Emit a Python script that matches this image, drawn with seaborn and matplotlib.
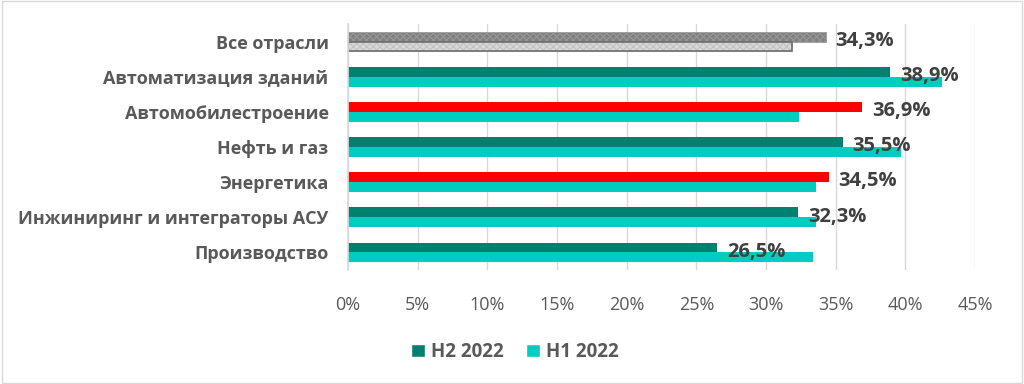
import pandas as pd
import matplotlib.pyplot as plt
import seaborn as sns
from matplotlib.ticker import FuncFormatter
from matplotlib.patches import Patch, Rectangle

# Data
categories = ["Все отрасли", "Автоматизация зданий", "Автомобилестроение",
              "Нефть и газ", "Энергетика", "Инжиниринг и интеграторы АСУ",
              "Производство"]
h2_2022 = [34.3, 38.9, 36.9, 35.5, 34.5, 32.3, 26.5]
h1_2022 = [31.9, 42.6, 32.4, 39.7, 33.6, 33.6, 33.4]
series = ["H2 2022", "H1 2022"]

df = pd.DataFrame({
    "Отрасль": categories * 2,
    "Значение": h2_2022 + h1_2022,
    "Период": [series[0]] * len(categories) + [series[1]] * len(categories),
})

C_H2 = "#00806E"
C_H1 = "#00CCC0"
C_RED = "#FF0000"
TXT = "#595959"

sns.set_theme(style="white")
plt.rcParams["font.family"] = ["Open Sans", "DejaVu Sans"]

fig, ax = plt.subplots(figsize=(10.24, 3.84), dpi=100)
fig.subplots_adjust(left=348 / 1024, right=975 / 1024, top=1 - 24 / 384, bottom=1 - 270 / 384)

sns.barplot(data=df, y="Отрасль", x="Значение", hue="Период", hue_order=series,
            order=categories, palette=[C_H2, C_H1], width=0.56, orient="h",
            saturation=1, ax=ax, legend=False)

# per-bar colouring like the original
h2_bars = ax.containers[0]
h1_bars = ax.containers[1]
for cat, bar in zip(categories, h2_bars):
    bar.set_linewidth(0)
    if cat in ("Автомобилестроение", "Энергетика"):
        bar.set_facecolor(C_RED)
for bar in h1_bars:
    bar.set_linewidth(0)

# "Все отрасли" is grey with a fine pattern
h2_bars[0].set_facecolor("#7F7F7F")
h2_bars[0].set_hatch("xxxxx")
h2_bars[0].set_edgecolor("#949494")
h2_bars[0].set_linewidth(0.4)
h1_bars[0].set_facecolor("#DADADA")
h1_bars[0].set_hatch("xxxxx")
h1_bars[0].set_edgecolor("#C4C4C4")
h1_bars[0].set_linewidth(0.4)
b = h1_bars[0]
ax.add_patch(Rectangle((b.get_x(), b.get_y()), b.get_width(), b.get_height(),
                       fill=False, edgecolor="#6E6E6E", linewidth=1.2, zorder=b.get_zorder() + 0.1))

# value labels at the end of the H2 bars
for i, v in enumerate(h2_2022):
    ax.text(v + 0.7, i - 0.02, f"{v:.1f}%".replace(".", ","), va="center", ha="left",
            fontsize=14.5, fontweight="bold", color="#404040")

ax.set_xlim(0, 45)
ax.set_xticks(range(0, 46, 5))
ax.xaxis.set_major_formatter(FuncFormatter(lambda x, _: f"{x:.0f}%"))
ax.grid(axis="x", color="#D9D9D9", linewidth=1)
ax.grid(axis="y", visible=False)
ax.set_axisbelow(True)
for s in ["top", "right", "bottom"]:
    ax.spines[s].set_visible(False)
ax.spines["left"].set_color("#D9D9D9")
ax.set_xlabel("")
ax.set_ylabel("")
ax.tick_params(axis="x", colors=TXT, labelsize=13, length=0, pad=19)
ax.tick_params(axis="y", colors=TXT, labelsize=13, length=0, pad=14)
for lab in ax.get_yticklabels():
    lab.set_fontweight("bold")

handles = [Patch(facecolor=C_H2, label=series[0]), Patch(facecolor=C_H1, label=series[1])]
leg = fig.legend(handles=handles, loc="center", bbox_to_anchor=(0.503, 1 - 352 / 384),
                 ncol=2, frameon=False, fontsize=13.5, handlelength=0.75, handleheight=0.75,
                 handletextpad=0.3, columnspacing=1.2)
for t in leg.get_texts():
    t.set_color(TXT)
    t.set_fontweight("bold")

# thin frame around the whole picture
fig.patches.append(Rectangle((0.002, 0.003), 0.996, 0.994, transform=fig.transFigure,
                             fill=False, edgecolor="#D9D9D9", linewidth=1))

fig.savefig("out.png", dpi=100)
